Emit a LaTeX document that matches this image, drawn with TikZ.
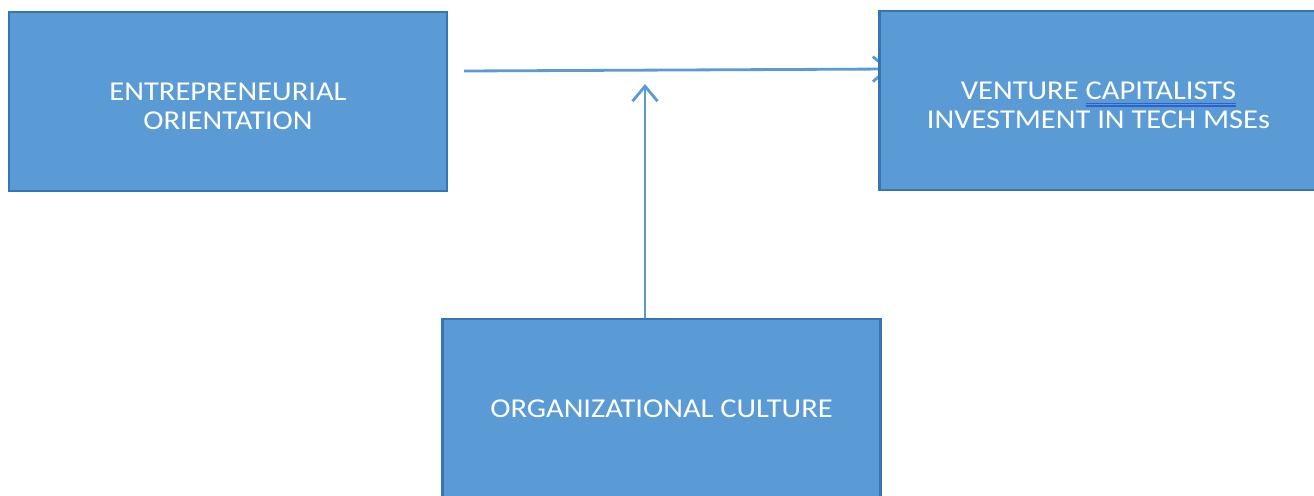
\documentclass[tikz,border=0pt]{standalone}
\usepackage{fontspec}
\setmainfont{Carlito}[FakeStretch=1.12]
\usetikzlibrary{arrows.meta}

\definecolor{boxfill}{HTML}{5B9BD5}
\definecolor{boxline}{HTML}{3874B4}
\definecolor{markblue}{HTML}{2F5FD0}

% double underline as drawn by a spell checker
\newcommand{\spellmark}[1]{\setbox0=\hbox{#1}\makebox[0pt][l]{\color{markblue}\rule[-2.6pt]{\wd0}{0.6pt}\hspace{-\wd0}\rule[-4.0pt]{\wd0}{0.6pt}}\box0}
% taller first line, sets the two-line text a bit lower
\newcommand{\toppad}{\rule{0pt}{15.5pt}}

\tikzset{
  block/.style={draw=boxline, line width=1.2pt, fill=boxfill, text=white,
    minimum width=8.76cm, minimum height=3.58cm, align=center,
    font=\fontsize{15.5}{16.5}\selectfont},
  link/.style={draw=boxfill, line width=1.6pt,
    -{Straight Barb[length=0.3cm,width=0.5cm,line width=1.6pt]}}
}

\begin{document}
\begin{tikzpicture}
\useasboundingbox (0,0) rectangle (26.28,-9.9);
\clip (0,0) rectangle (26.28,-9.9);
\node[block] (eo) at (4.56,-2.03) {\toppad ENTREPRENEURIAL\\ORIENTATION};
\coordinate (eoout) at (9.28,-1.42);
\coordinate (vcin) at (17.8,-1.38);
\coordinate (mod) at (12.9,-1.68);
% the arrow tip runs in under the target box
\draw[link] (eoout) -- (vcin);
\node[block] (vc) at (21.97,-2.01) {\toppad VENTURE \spellmark{CAPITALISTS}\\INVESTMENT IN TECH MSEs};
\node[block] (oc) at (13.23,-8.17) {ORGANIZATIONAL CULTURE};
\draw[link] (oc.north -| mod) -- (mod);
\end{tikzpicture}
\end{document}
